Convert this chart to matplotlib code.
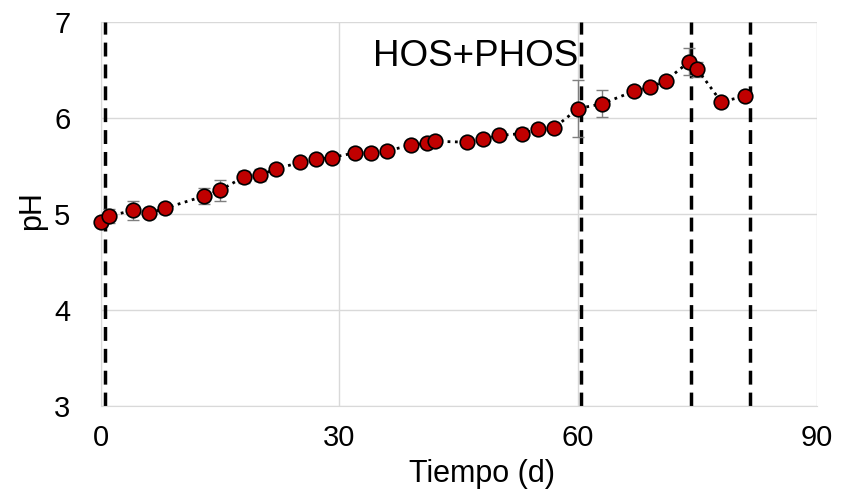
import numpy as np
import matplotlib.pyplot as plt

plt.rcParams['font.family'] = ['Liberation Sans', 'DejaVu Sans']

# Tiempo (d) y pH medido, con desviación
tiempo = [0, 1, 4, 6, 8, 13, 15, 18, 20, 22, 25, 27, 29, 32, 34, 36, 39, 41, 42,
          46, 48, 50, 53, 55, 57, 60, 63, 67, 69, 71, 74, 75, 78, 81]
ph = [4.92, 4.98, 5.04, 5.01, 5.06, 5.19, 5.25, 5.39, 5.41, 5.47, 5.54, 5.57, 5.59,
      5.64, 5.64, 5.66, 5.72, 5.74, 5.76, 5.75, 5.78, 5.82, 5.84, 5.89, 5.90,
      6.10, 6.15, 6.28, 6.32, 6.39, 6.59, 6.51, 6.17, 6.23]
desv = [0.03, 0.07, 0.10, 0.03, 0.03, 0.08, 0.11, 0.06, 0.06, 0.05, 0.03, 0.03, 0.03,
        0.05, 0.05, 0.05, 0.04, 0.03, 0.03, 0.04, 0.05, 0.04, 0.06, 0.04, 0.03,
        0.30, 0.14, 0.04, 0.04, 0.03, 0.14, 0.08, 0.04, 0.03]

# dias de adicion (lineas discontinuas)
adiciones = [0.5, 60.4, 74.2, 81.6]

fig = plt.figure(figsize=(8.48, 4.93), dpi=100)
ax = fig.add_axes([0.119, 0.176, 0.844, 0.779])

for x in adiciones:
    ax.axvline(x, color='black', lw=2.5, dashes=(4, 2.3), zorder=2)

ax.errorbar(tiempo, ph, yerr=desv, fmt='none', ecolor='#7f7f7f', elinewidth=1,
            capsize=4, capthick=1, zorder=3)
ax.plot(tiempo, ph, color='black', ls=':', lw=2, marker='o', ms=10.5,
        mfc='#c00000', mec='black', mew=1.2, zorder=4, clip_on=False)

ax.text(47.1, 6.64, 'HOS+PHOS', fontsize=26.5, ha='center', va='center')

ax.set_xlim(0, 90)
ax.set_ylim(3, 7)
ax.set_xticks([0, 30, 60, 90])
ax.set_yticks([3, 4, 5, 6, 7])
ax.grid(True, color='#d9d9d9', lw=1)
ax.set_axisbelow(True)
for s in ['top', 'right']:
    ax.spines[s].set_visible(False)
for s in ['left', 'bottom']:
    ax.spines[s].set_color('#d9d9d9')
ax.tick_params(length=0, labelsize=21)
ax.tick_params(axis='y', pad=22)
ax.tick_params(axis='x', pad=13)

ax.set_xlabel('Tiempo (d)', fontsize=22)
ax.set_ylabel('pH', fontsize=22)
ax.xaxis.set_label_coords(0.532, -0.138)
ax.yaxis.set_label_coords(-0.075, 0.51)

fig.savefig('out.png', dpi=100)
